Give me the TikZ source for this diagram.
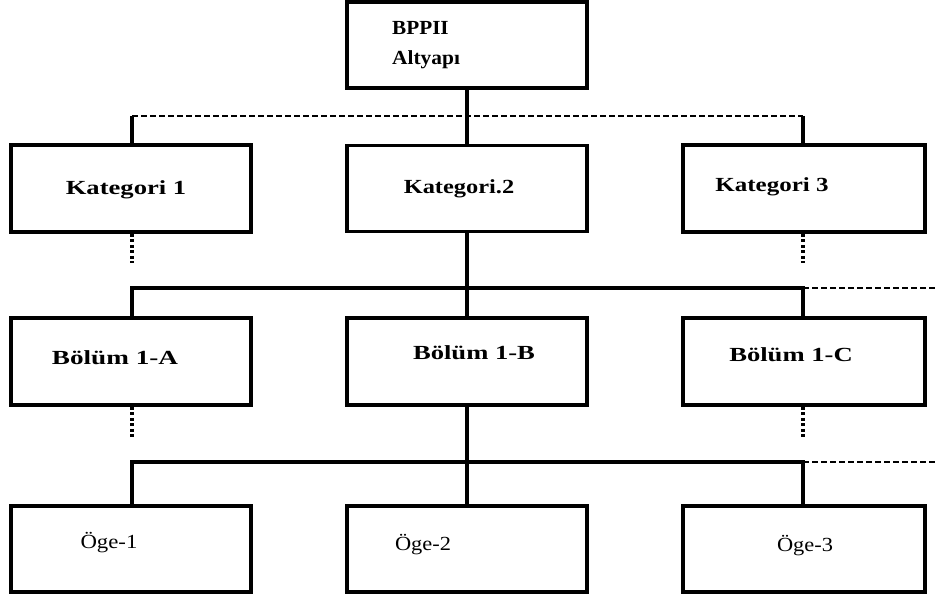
\documentclass[tikz,border=0pt]{standalone}
\usepackage{graphicx}
\usepackage{fontspec}
\setmainfont{Liberation Serif}
\begin{document}
\begin{tikzpicture}[x=1pt,y=-1pt,
  box/.style={draw,line width=3.6pt,minimum width=240pt,inner sep=0pt},
  conn/.style={line width=3.2pt},
  dashline/.style={line width=2.2pt,dash pattern=on 6pt off 3pt},
  dotline/.style={line width=3.2pt,dash pattern=on 3pt off 2.5pt},
  bt/.style={font=\fontsize{20}{30}\selectfont\bfseries,inner sep=0pt},
  rt/.style={font=\fontsize{20}{24}\selectfont,inner sep=0pt}]
\useasboundingbox (0,0) rectangle (937,599);
% boxes
\node[box,minimum height=86pt] (top) at (467,45) {};
\node[box,minimum height=87pt] (k1) at (131,188.5) {};
\node[box,minimum height=86pt] (k2) at (467,188.5) {};
\node[box,minimum height=87pt,minimum width=242pt] (k3) at (804,188.5) {};
\node[box,minimum height=87pt] (b1) at (131,361.5) {};
\node[box,minimum height=87pt] (b2) at (467,361.5) {};
\node[box,minimum height=87pt,minimum width=242pt] (b3) at (804,361.5) {};
\node[box,minimum height=86pt] (o1) at (131,549) {};
\node[box,minimum height=86pt] (o2) at (467,549) {};
\node[box,minimum height=86pt,minimum width=242pt] (o3) at (804,549) {};
% texts
\node[bt,align=left,anchor=west] (topt) at (392,45) {\scalebox{1.06}[1]{BPPII}\\\scalebox{1.07}[1]{Altyapı}};
\node[bt] (k1t) at (126,190) {\scalebox{1.33}[1]{Kategori 1}};
\node[bt] (k2t) at (459,189) {\scalebox{1.22}[1]{Kategori.2}};
\node[bt] (k3t) at (772,187) {\scalebox{1.25}[1]{Kategori 3}};
\node[bt] (b1t) at (115,358) {\scalebox{1.36}[1]{Bölüm 1-A}};
\node[bt] (b2t) at (474,353) {\scalebox{1.33}[1]{Bölüm 1-B}};
\node[bt] (b3t) at (791,355) {\scalebox{1.33}[1]{Bölüm 1-C}};
\node[rt] (o1t) at (109,543) {\scalebox{1.14}[1]{Öge-1}};
\node[rt] (o2t) at (423,545) {\scalebox{1.12}[1]{Öge-2}};
\node[rt] (o3t) at (805,546) {\scalebox{1.12}[1]{Öge-3}};
% coordinates
\coordinate (h1l) at (132,116);
\coordinate (h1r) at (803,116);
\coordinate (d1) at (132,263);
\coordinate (d3) at (803,263);
\coordinate (h2l) at (132,288);
\coordinate (h2r) at (803,288);
\coordinate (h2e) at (937,288);
\coordinate (e1) at (132,437);
\coordinate (e3) at (803,437);
\coordinate (h3l) at (132,462);
\coordinate (h3r) at (803,462);
\coordinate (h3e) at (937,462);
% level 1
\draw[conn] (top.south) -- (k2.north);
\draw[dashline] (h1l) -- (h1r);
\draw[conn] (h1l) -- (k1.north -| h1l);
\draw[conn] (h1r) -- (k3.north -| h1r);
\draw[dotline] (k1.south -| d1) -- (d1);
\draw[dotline] (k3.south -| d3) -- (d3);
% level 2
\draw[conn] (k2.south) -- (b2.north);
\draw[conn,line cap=rect] (h2l) -- (h2r);
\draw[dashline] (h2r) -- (h2e);
\draw[conn] (h2l) -- (b1.north -| h2l);
\draw[conn] (h2r) -- (b3.north -| h2r);
\draw[dotline] (b1.south -| e1) -- (e1);
\draw[dotline] (b3.south -| e3) -- (e3);
% level 3
\draw[conn] (b2.south) -- (o2.north);
\draw[conn,line cap=rect] (h3l) -- (h3r);
\draw[dashline] (h3r) -- (h3e);
\draw[conn] (h3l) -- (o1.north -| h3l);
\draw[conn] (h3r) -- (o3.north -| h3r);
\end{tikzpicture}
\end{document}
